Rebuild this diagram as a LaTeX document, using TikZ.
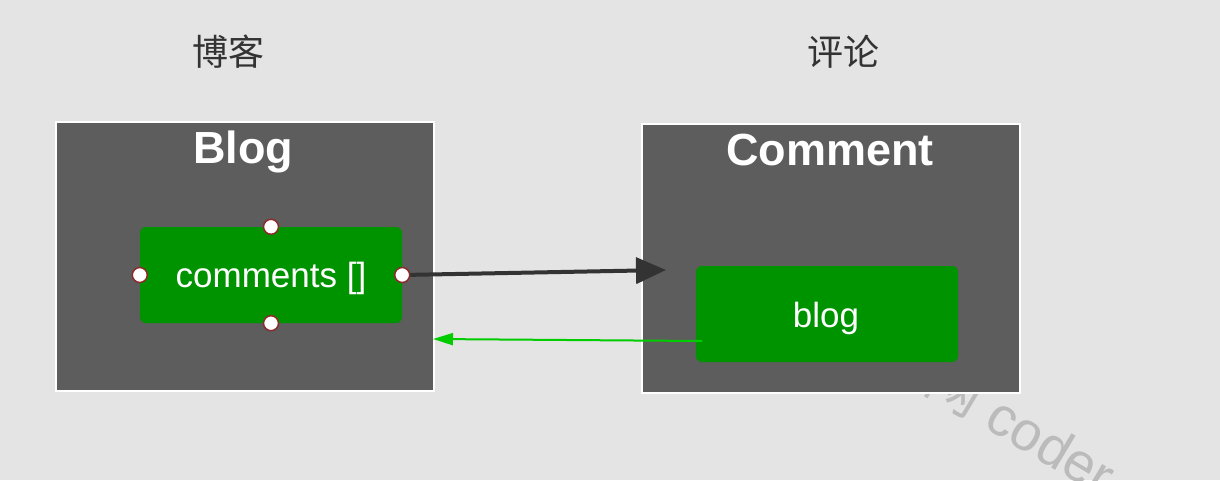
\documentclass[tikz,border=0pt]{standalone}
\usepackage{fontspec}
\setmainfont{Liberation Sans}
\newfontfamily\cjk{Noto Sans CJK SC}
\usetikzlibrary{arrows.meta}
\definecolor{bg}{HTML}{E4E4E4}
\definecolor{boxgray}{HTML}{5D5D5D}
\definecolor{fieldgreen}{HTML}{009300}
\definecolor{titletext}{HTML}{333333}
\definecolor{handleborder}{HTML}{8B2B2B}
\definecolor{darkarrow}{HTML}{333333}
\definecolor{greenarrow}{HTML}{00CC00}
\definecolor{wm}{HTML}{BBBBBB}
\tikzset{
  entitybox/.style={draw=white, line width=2pt, fill=boxgray, inner sep=0pt},
  fieldbox/.style={fill=fieldgreen, rounded corners=6pt, inner sep=0pt, text=white, font=\fontsize{35}{40}\selectfont},
  entitytitle/.style={text=white, font=\bfseries\fontsize{45}{52}\selectfont, inner sep=0pt},
  cntitle/.style={text=titletext, font=\cjk\fontsize{36}{40}\selectfont, inner sep=0pt},
  handle/.style={circle, draw=handleborder, fill=white, line width=1.5pt, minimum size=15pt, inner sep=0pt},
  refarrow/.style={draw=darkarrow, line width=4pt, -{Triangle[length=30pt,width=26pt]}},
  backarrow/.style={draw=greenarrow, line width=2pt, -{Triangle[length=20pt,width=12pt]}},
}
\begin{document}
\begin{tikzpicture}[x=1pt,y=-1pt]
\useasboundingbox (0,0) rectangle (1220,480);
\clip (0,0) rectangle (1220,480);
\fill[bg] (0,0) rectangle (1220,480);
% watermark
\node[text=wm, font=\fontsize{55}{60}\selectfont, rotate=-31, anchor=base west, inner sep=0pt] (wmark) at (922,390) {{\cjk 网} coder};
% titles
\node[cntitle] (cnblog) at (228,52) {博客};
\node[cntitle] (cncomment) at (843,52) {评论};
% entity boxes
\node[entitybox, minimum width=378pt, minimum height=269pt, anchor=north west] (blogbox) at (55,121) {};
\node[entitybox, minimum width=378pt, minimum height=269pt, anchor=north west] (commentbox) at (641,123) {};
\node[entitytitle] (blogtitle) at (243,152) {Blog};
\node[entitytitle] (commenttitle) at (830,150) {Comment};
% fields
\node[fieldbox, minimum width=262pt, minimum height=96pt] (comments) at (271,275) {};
\node[text=white, font=\fontsize{35}{40}\selectfont, inner sep=0pt] (commentstext) at (271,278) {comments []};
\node[fieldbox, minimum width=262pt, minimum height=96pt] (blogfield) at (827,314) {};
\node[text=white, font=\fontsize{35}{40}\selectfont, inner sep=0pt] (blogtext) at (826,318) {blog};
% connectors
\coordinate (arrowend) at (666,270);
\draw[refarrow] (comments.east) -- (arrowend);
\coordinate (greenstart) at (702,341);
\coordinate (greenend) at (433,339);
\draw[backarrow] (greenstart) -- (greenend);
% handles
\node[handle] (htop) at (comments.north) {};
\node[handle] (hleft) at (comments.west) {};
\node[handle] (hright) at (comments.east) {};
\node[handle] (hbottom) at (comments.south) {};
\end{tikzpicture}
\end{document}
